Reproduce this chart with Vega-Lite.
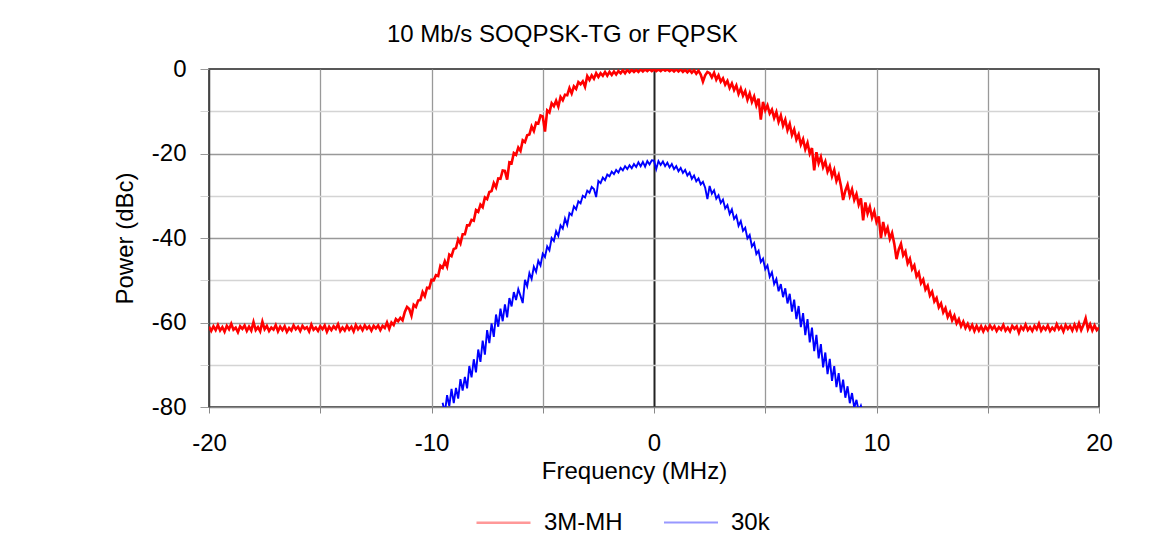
{
"$schema":"https://vega.github.io/schema/vega-lite/v6.json",
"width":890,"height":338,
"autosize":{"type":"none"},
"padding":{"left":209,"top":69,"right":55,"bottom":141},
"background":"white",
"config":{"font":"Liberation Sans","view":{"stroke":"#222","strokeWidth":1.5}},
"title":{"text":"10 Mb/s SOQPSK-TG or FQPSK","anchor":"start","frame":"group","dx":178,"offset":10,"fontSize":24,"fontWeight":"normal","color":"#000","font":"Liberation Sans"},
"data":{"values":[
{"f":-20.0,"3M-MH":-61.0},{"f":-19.9,"3M-MH":-62.0},{"f":-19.8,"3M-MH":-60.9},{"f":-19.7,"3M-MH":-61.8},{"f":-19.6,"3M-MH":-60.6},{"f":-19.5,"3M-MH":-61.9},{"f":-19.4,"3M-MH":-61.1},{"f":-19.3,"3M-MH":-62.2},{"f":-19.2,"3M-MH":-60.8},{"f":-19.1,"3M-MH":-61.6},
{"f":-19.0,"3M-MH":-60.3},{"f":-18.9,"3M-MH":-61.7},{"f":-18.8,"3M-MH":-61.2},{"f":-18.7,"3M-MH":-62.3},{"f":-18.6,"3M-MH":-60.9},{"f":-18.5,"3M-MH":-61.5},{"f":-18.4,"3M-MH":-60.7},{"f":-18.3,"3M-MH":-62.0},{"f":-18.2,"3M-MH":-61.0},{"f":-18.1,"3M-MH":-61.9},
{"f":-18.0,"3M-MH":-59.9},{"f":-17.9,"3M-MH":-61.8},{"f":-17.8,"3M-MH":-61.1},{"f":-17.7,"3M-MH":-62.1},{"f":-17.6,"3M-MH":-59.8},{"f":-17.5,"3M-MH":-61.6},{"f":-17.4,"3M-MH":-60.8},{"f":-17.3,"3M-MH":-62.0},{"f":-17.2,"3M-MH":-61.2},{"f":-17.1,"3M-MH":-61.7},
{"f":-17.0,"3M-MH":-60.6},{"f":-16.9,"3M-MH":-62.1},{"f":-16.8,"3M-MH":-61.0},{"f":-16.7,"3M-MH":-61.8},{"f":-16.6,"3M-MH":-60.9},{"f":-16.5,"3M-MH":-62.2},{"f":-16.4,"3M-MH":-61.3},{"f":-16.3,"3M-MH":-61.9},{"f":-16.2,"3M-MH":-60.7},{"f":-16.1,"3M-MH":-61.6},
{"f":-16.0,"3M-MH":-61.0},{"f":-15.9,"3M-MH":-62.0},{"f":-15.8,"3M-MH":-60.8},{"f":-15.7,"3M-MH":-61.5},{"f":-15.6,"3M-MH":-61.1},{"f":-15.5,"3M-MH":-62.1},{"f":-15.4,"3M-MH":-60.5},{"f":-15.3,"3M-MH":-61.7},{"f":-15.2,"3M-MH":-61.2},{"f":-15.1,"3M-MH":-62.0},
{"f":-15.0,"3M-MH":-60.9},{"f":-14.9,"3M-MH":-61.6},{"f":-14.8,"3M-MH":-60.7},{"f":-14.7,"3M-MH":-62.2},{"f":-14.6,"3M-MH":-61.0},{"f":-14.5,"3M-MH":-61.8},{"f":-14.4,"3M-MH":-60.9},{"f":-14.3,"3M-MH":-61.5},{"f":-14.2,"3M-MH":-60.4},{"f":-14.1,"3M-MH":-62.0},
{"f":-14.0,"3M-MH":-61.2},{"f":-13.9,"3M-MH":-61.9},{"f":-13.8,"3M-MH":-60.8},{"f":-13.7,"3M-MH":-61.7},{"f":-13.6,"3M-MH":-61.0},{"f":-13.5,"3M-MH":-62.1},{"f":-13.4,"3M-MH":-60.6},{"f":-13.3,"3M-MH":-61.6},{"f":-13.2,"3M-MH":-60.9},{"f":-13.1,"3M-MH":-61.8},
{"f":-13.0,"3M-MH":-60.7},{"f":-12.9,"3M-MH":-61.5},{"f":-12.8,"3M-MH":-60.9},{"f":-12.7,"3M-MH":-61.9},{"f":-12.6,"3M-MH":-60.8},{"f":-12.5,"3M-MH":-61.4},{"f":-12.4,"3M-MH":-60.7},{"f":-12.3,"3M-MH":-61.8},{"f":-12.2,"3M-MH":-60.8},{"f":-12.1,"3M-MH":-61.3},
{"f":-12.0,"3M-MH":-60.0},{"f":-11.9,"3M-MH":-61.5},{"f":-11.8,"3M-MH":-60.0},{"f":-11.7,"3M-MH":-60.6},{"f":-11.6,"3M-MH":-59.2},{"f":-11.5,"3M-MH":-59.7},{"f":-11.4,"3M-MH":-58.9},{"f":-11.3,"3M-MH":-59.5},{"f":-11.2,"3M-MH":-57.5},{"f":-11.1,"3M-MH":-56.3},
{"f":-11.0,"3M-MH":-56.8},{"f":-10.9,"3M-MH":-58.4},{"f":-10.8,"3M-MH":-55.8},{"f":-10.7,"3M-MH":-56.3},{"f":-10.6,"3M-MH":-54.8},{"f":-10.5,"3M-MH":-54.7},{"f":-10.4,"3M-MH":-52.8},{"f":-10.3,"3M-MH":-53.8},{"f":-10.2,"3M-MH":-51.8},{"f":-10.1,"3M-MH":-51.9},
{"f":-10.0,"3M-MH":-49.9},{"f":-9.9,"3M-MH":-50.0},{"f":-9.8,"3M-MH":-48.8},{"f":-9.7,"3M-MH":-49.0},{"f":-9.6,"3M-MH":-46.6},
{"f":-9.5,"3M-MH":-47.1,"30k":-79.0},{"f":-9.4,"3M-MH":-45.5,"30k":-81.4},{"f":-9.3,"3M-MH":-46.8,"30k":-77.2},{"f":-9.2,"3M-MH":-43.9,"30k":-79.8},{"f":-9.1,"3M-MH":-44.3,"30k":-75.7},
{"f":-9.0,"3M-MH":-42.6,"30k":-79.1},{"f":-8.9,"3M-MH":-42.4,"30k":-75.5},{"f":-8.8,"3M-MH":-40.3,"30k":-78.0},{"f":-8.7,"3M-MH":-41.3,"30k":-73.4},{"f":-8.6,"3M-MH":-39.1,"30k":-76.1},
{"f":-8.5,"3M-MH":-39.1,"30k":-72.9},{"f":-8.4,"3M-MH":-37.0,"30k":-75.6},{"f":-8.3,"3M-MH":-37.0,"30k":-70.3},{"f":-8.2,"3M-MH":-35.7,"30k":-73.0},{"f":-8.1,"3M-MH":-35.9,"30k":-68.7},
{"f":-8.0,"3M-MH":-33.4,"30k":-71.8},{"f":-7.9,"3M-MH":-33.8,"30k":-66.4},{"f":-7.8,"3M-MH":-32.1,"30k":-69.3},{"f":-7.7,"3M-MH":-32.7,"30k":-64.3},{"f":-7.6,"3M-MH":-30.4,"30k":-67.6},
{"f":-7.5,"3M-MH":-30.8,"30k":-61.8},{"f":-7.4,"3M-MH":-29.1,"30k":-64.9},{"f":-7.3,"3M-MH":-28.9,"30k":-60.2},{"f":-7.2,"3M-MH":-27.0,"30k":-63.4},{"f":-7.1,"3M-MH":-28.0,"30k":-58.1},
{"f":-7.0,"3M-MH":-25.9,"30k":-61.0},{"f":-6.9,"3M-MH":-26.0,"30k":-56.7},{"f":-6.8,"3M-MH":-24.0,"30k":-59.7},{"f":-6.7,"3M-MH":-24.1,"30k":-55.7},{"f":-6.6,"3M-MH":-26.2,"30k":-58.8},
{"f":-6.5,"3M-MH":-22.1,"30k":-54.2},{"f":-6.4,"3M-MH":-22.3,"30k":-56.2},{"f":-6.3,"3M-MH":-19.9,"30k":-52.8},{"f":-6.2,"3M-MH":-20.3,"30k":-54.7},{"f":-6.1,"3M-MH":-18.6,"30k":-52.1},
{"f":-6.0,"3M-MH":-19.4,"30k":-53.7},{"f":-5.9,"3M-MH":-16.9,"30k":-55.4},{"f":-5.8,"3M-MH":-17.3,"30k":-49.9},{"f":-5.7,"3M-MH":-15.7,"30k":-51.4},{"f":-5.6,"3M-MH":-15.5,"30k":-48.3},
{"f":-5.5,"3M-MH":-13.6,"30k":-49.7},{"f":-5.4,"3M-MH":-14.7,"30k":-46.8},{"f":-5.3,"3M-MH":-12.7,"30k":-48.0},{"f":-5.2,"3M-MH":-12.9,"30k":-45.4},{"f":-5.1,"3M-MH":-11.0,"30k":-46.5},
{"f":-5.0,"3M-MH":-11.2,"30k":-43.7},{"f":-4.9,"3M-MH":-14.8,"30k":-44.5},{"f":-4.8,"3M-MH":-9.8,"30k":-42.0},{"f":-4.7,"3M-MH":-10.3,"30k":-42.9},{"f":-4.6,"3M-MH":-8.1,"30k":-40.0},
{"f":-4.5,"3M-MH":-8.8,"30k":-40.7},{"f":-4.4,"3M-MH":-7.5,"30k":-38.4},{"f":-4.3,"3M-MH":-8.9,"30k":-39.5},{"f":-4.2,"3M-MH":-6.6,"30k":-37.0},{"f":-4.1,"3M-MH":-7.4,"30k":-37.8},
{"f":-4.0,"3M-MH":-6.1,"30k":-35.4},{"f":-3.9,"3M-MH":-6.2,"30k":-36.9},{"f":-3.8,"3M-MH":-4.5,"30k":-34.1},{"f":-3.7,"3M-MH":-5.8,"30k":-34.6},{"f":-3.6,"3M-MH":-4.1,"30k":-32.5},
{"f":-3.5,"3M-MH":-4.7,"30k":-33.2},{"f":-3.4,"3M-MH":-3.1,"30k":-31.3},{"f":-3.3,"3M-MH":-3.6,"30k":-31.8},{"f":-3.2,"3M-MH":-2.9,"30k":-30.0},{"f":-3.1,"3M-MH":-4.2,"30k":-30.4},
{"f":-3.0,"3M-MH":-1.7,"30k":-28.8},{"f":-2.9,"3M-MH":-2.6,"30k":-29.3},{"f":-2.8,"3M-MH":-1.5,"30k":-27.9},{"f":-2.7,"3M-MH":-2.3,"30k":-28.4},{"f":-2.6,"3M-MH":-1.0,"30k":-30.3},
{"f":-2.5,"3M-MH":-1.9,"30k":-26.5},{"f":-2.4,"3M-MH":-1.0,"30k":-27.0},{"f":-2.3,"3M-MH":-1.6,"30k":-25.7},{"f":-2.2,"3M-MH":-0.7,"30k":-26.3},{"f":-2.1,"3M-MH":-1.6,"30k":-25.0},
{"f":-2.0,"3M-MH":-0.7,"30k":-25.4},{"f":-1.9,"3M-MH":-1.4,"30k":-24.3},{"f":-1.8,"3M-MH":-0.6,"30k":-24.9},{"f":-1.7,"3M-MH":-1.3,"30k":-23.9},{"f":-1.6,"3M-MH":-0.5,"30k":-24.5},
{"f":-1.5,"3M-MH":-1.0,"30k":-23.4},{"f":-1.4,"3M-MH":-0.3,"30k":-24.0},{"f":-1.3,"3M-MH":-1.0,"30k":-23.0},{"f":-1.2,"3M-MH":-0.2,"30k":-23.7},{"f":-1.1,"3M-MH":-0.8,"30k":-22.8},
{"f":-1.0,"3M-MH":-0.2,"30k":-23.5},{"f":-0.9,"3M-MH":-0.7,"30k":-22.5},{"f":-0.8,"3M-MH":-0.2,"30k":-23.2},{"f":-0.7,"3M-MH":-0.7,"30k":-22.1},{"f":-0.6,"3M-MH":-0.1,"30k":-23.0},
{"f":-0.5,"3M-MH":-0.6,"30k":-22.0},{"f":-0.4,"3M-MH":-0.1,"30k":-23.1},{"f":-0.3,"3M-MH":-0.5,"30k":-21.8},{"f":-0.2,"3M-MH":0.0,"30k":-22.6},{"f":-0.1,"3M-MH":-0.5,"30k":-21.6},
{"f":0.0,"3M-MH":-0.1,"30k":-21.7},{"f":0.1,"3M-MH":-0.5,"30k":-23.7},{"f":0.2,"3M-MH":-0.1,"30k":-21.8},{"f":0.3,"3M-MH":-0.5,"30k":-22.7},{"f":0.4,"3M-MH":0.0,"30k":-21.9},
{"f":0.5,"3M-MH":-0.4,"30k":-23.0},{"f":0.6,"3M-MH":-0.1,"30k":-22.2},{"f":0.7,"3M-MH":-0.5,"30k":-23.3},{"f":0.8,"3M-MH":-0.1,"30k":-22.5},{"f":0.9,"3M-MH":-0.6,"30k":-23.7},
{"f":1.0,"3M-MH":-0.1,"30k":-23.0},{"f":1.1,"3M-MH":-0.6,"30k":-24.2},{"f":1.2,"3M-MH":-0.1,"30k":-23.4},{"f":1.3,"3M-MH":-0.7,"30k":-24.6},{"f":1.4,"3M-MH":-0.2,"30k":-23.9},
{"f":1.5,"3M-MH":-0.8,"30k":-25.2},{"f":1.6,"3M-MH":-0.2,"30k":-24.5},{"f":1.7,"3M-MH":-0.9,"30k":-26.0},{"f":1.8,"3M-MH":-0.3,"30k":-25.2},{"f":1.9,"3M-MH":-1.1,"30k":-26.6},
{"f":2.0,"3M-MH":-0.4,"30k":-25.9},{"f":2.1,"3M-MH":-1.3,"30k":-27.3},{"f":2.2,"3M-MH":-3.0,"30k":-26.7},{"f":2.3,"3M-MH":-1.5,"30k":-28.1},{"f":2.4,"3M-MH":-0.7,"30k":-30.8},
{"f":2.5,"3M-MH":-1.0,"30k":-27.7},{"f":2.6,"3M-MH":-2.0,"30k":-29.5},{"f":2.7,"3M-MH":-0.9,"30k":-28.7},{"f":2.8,"3M-MH":-2.5,"30k":-30.7},{"f":2.9,"3M-MH":-1.5,"30k":-29.9},
{"f":3.0,"3M-MH":-3.0,"30k":-31.7},{"f":3.1,"3M-MH":-2.2,"30k":-30.9},{"f":3.2,"3M-MH":-3.7,"30k":-33.0},{"f":3.3,"3M-MH":-2.8,"30k":-32.2},{"f":3.4,"3M-MH":-4.5,"30k":-34.3},
{"f":3.5,"3M-MH":-3.4,"30k":-33.2},{"f":3.6,"3M-MH":-5.0,"30k":-35.5},{"f":3.7,"3M-MH":-3.9,"30k":-34.7},{"f":3.8,"3M-MH":-5.9,"30k":-37.1},{"f":3.9,"3M-MH":-4.6,"30k":-36.0},
{"f":4.0,"3M-MH":-6.3,"30k":-38.3},{"f":4.1,"3M-MH":-5.2,"30k":-37.6},{"f":4.2,"3M-MH":-7.3,"30k":-40.1},{"f":4.3,"3M-MH":-5.8,"30k":-39.3},{"f":4.4,"3M-MH":-7.8,"30k":-42.0},
{"f":4.5,"3M-MH":-6.5,"30k":-41.2},{"f":4.6,"3M-MH":-8.6,"30k":-43.8},{"f":4.7,"3M-MH":-7.0,"30k":-43.0},{"f":4.8,"3M-MH":-12.0,"30k":-45.7},{"f":4.9,"3M-MH":-7.8,"30k":-44.9},
{"f":5.0,"3M-MH":-9.8,"30k":-47.4},{"f":5.1,"3M-MH":-8.6,"30k":-46.5},{"f":5.2,"3M-MH":-10.5,"30k":-49.2},{"f":5.3,"3M-MH":-9.6,"30k":-48.1},{"f":5.4,"3M-MH":-11.6,"30k":-50.9},
{"f":5.5,"3M-MH":-10.2,"30k":-49.7},{"f":5.6,"3M-MH":-12.5,"30k":-52.6},{"f":5.7,"3M-MH":-11.0,"30k":-50.9},{"f":5.8,"3M-MH":-13.4,"30k":-54.0},{"f":5.9,"3M-MH":-12.0,"30k":-51.9},
{"f":6.0,"3M-MH":-14.5,"30k":-55.5},{"f":6.1,"3M-MH":-13.0,"30k":-53.2},{"f":6.2,"3M-MH":-15.6,"30k":-57.4},{"f":6.3,"3M-MH":-14.3,"30k":-54.6},{"f":6.4,"3M-MH":-16.7,"30k":-59.2},
{"f":6.5,"3M-MH":-15.5,"30k":-56.1},{"f":6.6,"3M-MH":-17.9,"30k":-61.1},{"f":6.7,"3M-MH":-16.6,"30k":-57.8},{"f":6.8,"3M-MH":-19.0,"30k":-63.0},{"f":6.9,"3M-MH":-17.5,"30k":-59.2},
{"f":7.0,"3M-MH":-20.0,"30k":-64.7},{"f":7.1,"3M-MH":-18.7,"30k":-61.2},{"f":7.2,"3M-MH":-24.0,"30k":-66.8},{"f":7.3,"3M-MH":-19.7,"30k":-62.9},{"f":7.4,"3M-MH":-22.3,"30k":-68.5},
{"f":7.5,"3M-MH":-20.8,"30k":-65.1},{"f":7.6,"3M-MH":-23.2,"30k":-70.6},{"f":7.7,"3M-MH":-21.9,"30k":-67.1},{"f":7.8,"3M-MH":-24.3,"30k":-72.2},{"f":7.9,"3M-MH":-23.0,"30k":-68.6},
{"f":8.0,"3M-MH":-25.4,"30k":-73.8},{"f":8.1,"3M-MH":-23.9,"30k":-70.3},{"f":8.2,"3M-MH":-26.5,"30k":-75.3},{"f":8.3,"3M-MH":-25.1,"30k":-72.0},{"f":8.4,"3M-MH":-27.6,"30k":-76.6},
{"f":8.5,"3M-MH":-31.0,"30k":-73.5},{"f":8.6,"3M-MH":-28.8,"30k":-77.8},{"f":8.7,"3M-MH":-27.4,"30k":-75.1},{"f":8.8,"3M-MH":-30.0,"30k":-79.1},{"f":8.9,"3M-MH":-28.5,"30k":-76.7},
{"f":9.0,"3M-MH":-31.0,"30k":-80.2},{"f":9.1,"3M-MH":-29.6,"30k":-78.3},{"f":9.2,"3M-MH":-32.1,"30k":-81.0},{"f":9.3,"3M-MH":-30.6,"30k":-79.7},{"f":9.4,"3M-MH":-35.8,"30k":-81.5},
{"f":9.5,"3M-MH":-31.6},{"f":9.6,"3M-MH":-34.2},{"f":9.7,"3M-MH":-32.6},{"f":9.8,"3M-MH":-35.2},{"f":9.9,"3M-MH":-33.7},
{"f":10.0,"3M-MH":-36.2},{"f":10.1,"3M-MH":-34.9},{"f":10.2,"3M-MH":-40.0},{"f":10.3,"3M-MH":-36.2},{"f":10.4,"3M-MH":-38.9},{"f":10.5,"3M-MH":-37.6},{"f":10.6,"3M-MH":-40.2},{"f":10.7,"3M-MH":-38.8},{"f":10.8,"3M-MH":-41.4},{"f":10.9,"3M-MH":-45.0},
{"f":11.0,"3M-MH":-42.7},{"f":11.1,"3M-MH":-41.4},{"f":11.2,"3M-MH":-44.1},{"f":11.3,"3M-MH":-43.2},{"f":11.4,"3M-MH":-46.0},{"f":11.5,"3M-MH":-44.9},{"f":11.6,"3M-MH":-47.4},{"f":11.7,"3M-MH":-46.5},{"f":11.8,"3M-MH":-49.1},{"f":11.9,"3M-MH":-48.2},
{"f":12.0,"3M-MH":-50.7},{"f":12.1,"3M-MH":-49.8},{"f":12.2,"3M-MH":-52.2},{"f":12.3,"3M-MH":-51.3},{"f":12.4,"3M-MH":-53.6},{"f":12.5,"3M-MH":-52.7},{"f":12.6,"3M-MH":-55.0},{"f":12.7,"3M-MH":-54.2},{"f":12.8,"3M-MH":-56.4},{"f":12.9,"3M-MH":-55.5},
{"f":13.0,"3M-MH":-57.6},{"f":13.1,"3M-MH":-56.6},{"f":13.2,"3M-MH":-58.7},{"f":13.3,"3M-MH":-57.6},{"f":13.4,"3M-MH":-59.5},{"f":13.5,"3M-MH":-58.4},{"f":13.6,"3M-MH":-60.2},{"f":13.7,"3M-MH":-59.2},{"f":13.8,"3M-MH":-60.9},{"f":13.9,"3M-MH":-59.8},
{"f":14.0,"3M-MH":-61.3},{"f":14.1,"3M-MH":-60.3},{"f":14.2,"3M-MH":-61.6},{"f":14.3,"3M-MH":-60.6},{"f":14.4,"3M-MH":-62.0},{"f":14.5,"3M-MH":-60.8},{"f":14.6,"3M-MH":-61.9},{"f":14.7,"3M-MH":-60.9},{"f":14.8,"3M-MH":-62.1},{"f":14.9,"3M-MH":-61.0},
{"f":15.0,"3M-MH":-61.8},{"f":15.1,"3M-MH":-60.7},{"f":15.2,"3M-MH":-61.6},{"f":15.3,"3M-MH":-60.9},{"f":15.4,"3M-MH":-62.0},{"f":15.5,"3M-MH":-61.1},{"f":15.6,"3M-MH":-61.7},{"f":15.7,"3M-MH":-60.6},{"f":15.8,"3M-MH":-61.9},{"f":15.9,"3M-MH":-61.2},
{"f":16.0,"3M-MH":-62.1},{"f":16.1,"3M-MH":-60.8},{"f":16.2,"3M-MH":-61.5},{"f":16.3,"3M-MH":-60.9},{"f":16.4,"3M-MH":-62.4},{"f":16.5,"3M-MH":-61.0},{"f":16.6,"3M-MH":-61.7},{"f":16.7,"3M-MH":-60.5},{"f":16.8,"3M-MH":-61.8},{"f":16.9,"3M-MH":-61.1},
{"f":17.0,"3M-MH":-62.0},{"f":17.1,"3M-MH":-60.8},{"f":17.2,"3M-MH":-61.6},{"f":17.3,"3M-MH":-60.3},{"f":17.4,"3M-MH":-61.9},{"f":17.5,"3M-MH":-61.0},{"f":17.6,"3M-MH":-61.7},{"f":17.7,"3M-MH":-60.7},{"f":17.8,"3M-MH":-62.0},{"f":17.9,"3M-MH":-61.2},
{"f":18.0,"3M-MH":-61.8},{"f":18.1,"3M-MH":-60.4},{"f":18.2,"3M-MH":-61.6},{"f":18.3,"3M-MH":-60.9},{"f":18.4,"3M-MH":-62.1},{"f":18.5,"3M-MH":-60.6},{"f":18.6,"3M-MH":-61.5},{"f":18.7,"3M-MH":-60.8},{"f":18.8,"3M-MH":-61.9},{"f":18.9,"3M-MH":-60.5},
{"f":19.0,"3M-MH":-61.7},{"f":19.1,"3M-MH":-60.2},{"f":19.2,"3M-MH":-61.8},{"f":19.3,"3M-MH":-60.6},{"f":19.4,"3M-MH":-59.0},{"f":19.5,"3M-MH":-61.6},{"f":19.6,"3M-MH":-60.4},{"f":19.7,"3M-MH":-61.9},{"f":19.8,"3M-MH":-60.7},{"f":19.9,"3M-MH":-61.8},
{"f":20.0,"3M-MH":-61.2}
]},
"transform":[{"fold":["3M-MH","30k"],"as":["series","power"]},{"filter":"isValid(datum.power)"}],
"mark":{"type":"line","clip":true},
"encoding":{
"x":{"field":"f","type":"quantitative","scale":{"domain":[-20,20],"nice":false,"zero":false},
 "axis":{"values":[-20,-15,-10,-5,0,5,10,15,20],"labelExpr":"datum.value % 10 === 0 ? '' + datum.value : ''",
  "title":"Frequency (MHz)","titleFontSize":24,"titleFontWeight":"normal","titleColor":"#000","titleX":425,"titlePadding":4,
  "labelFontSize":24,"labelColor":"#000","labelPadding":18,"labelFlush":false,
  "tickSize":6,"tickColor":"#888","domainColor":"#888","domainWidth":1.5,
  "gridColor":{"condition":{"test":"datum.value === 0","value":"#222"},"value":"#999"},
  "gridWidth":{"condition":{"test":"datum.value === 0","value":2},"value":1.3},
  "gridOpacity":{"condition":{"test":"abs(datum.value) === 20","value":0},"value":1}}},
"y":{"field":"power","type":"quantitative","scale":{"domain":[-80,0],"nice":false,"zero":false},
 "axis":{"values":[0,-10,-20,-30,-40,-50,-60,-70,-80],"labelExpr":"datum.value % 20 === 0 ? '' + datum.value : ''",
  "title":"Power (dBc)","titleFontSize":24,"titleFontWeight":"normal","titleColor":"#000","titlePadding":14,
  "labelFontSize":24,"labelColor":"#000","labelPadding":14,"labelFlush":false,
  "tickSize":9,"tickColor":{"condition":{"test":"datum.value % 20 === 0","value":"#999"},"value":"#d4d4d4"},
  "domainColor":"#444","domainWidth":1.5,
  "gridColor":{"condition":{"test":"datum.value % 20 === 0","value":"#999"},"value":"#d4d4d4"},
  "gridWidth":1.3,
  "gridOpacity":{"condition":{"test":"datum.value === 0 || datum.value === -80","value":0},"value":1}}},
"strokeWidth":{"field":"series","type":"nominal","scale":{"domain":["3M-MH","30k"],"range":[2.6,1.9]},"legend":null},
"color":{"field":"series","type":"nominal","scale":{"domain":["3M-MH","30k"],"range":["#ff0000","#0000ff"]},
 "legend":{"orient":"none","legendX":266,"legendY":425,"direction":"horizontal","title":null,"padding":0,
  "symbolType":"stroke","symbolSize":2916,"symbolStrokeWidth":2,"symbolOpacity":0.4,
  "labelFontSize":24,"labelColor":"#000","labelOffset":12,"columnPadding":37}}
}
}
